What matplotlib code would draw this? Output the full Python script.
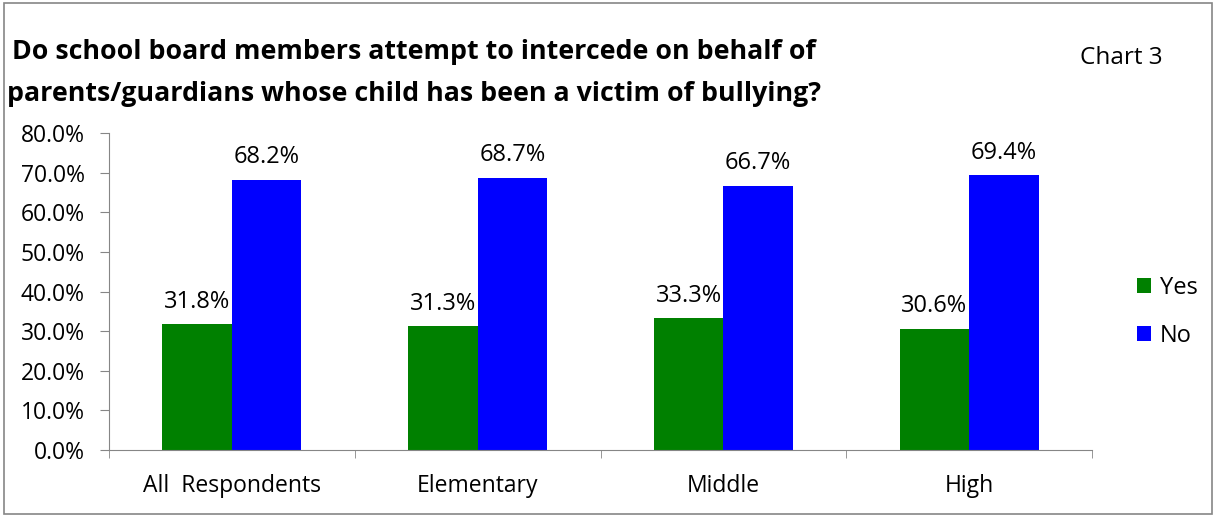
import matplotlib.pyplot as plt
import numpy as np
from matplotlib.patches import Rectangle

categories = ["All  Respondents", "Elementary", "Middle", "High"]
yes_vals = [31.8, 31.3, 33.3, 30.6]
no_vals = [68.2, 68.7, 66.7, 69.4]

plt.rcParams['font.family'] = ['Open Sans', 'DejaVu Sans']

fig = plt.figure(figsize=(12.17, 5.17), dpi=100)
ax = fig.add_axes([0.0896, 0.1296, 0.8077, 0.6131])

# outer border of the chart
fig.patches.append(Rectangle((0.003, 0.006), 0.993, 0.988, transform=fig.transFigure,
                             fill=False, edgecolor="#868686", linewidth=1.2))

x = np.arange(len(categories))
w = 0.283
b1 = ax.bar(x - w / 2, yes_vals, w, color="#008000", label="Yes")
b2 = ax.bar(x + w / 2, no_vals, w, color="#0000FF", label="No")

for bars, vals in ((b1, yes_vals), (b2, no_vals)):
    for r, v in zip(bars, vals):
        ax.text(r.get_x() + r.get_width() / 2, v + 2.6, f"{v:.1f}%",
                ha="center", va="bottom", fontsize=17)

ax.set_ylim(0, 80)
ax.set_xlim(-0.5, len(categories) - 0.5)
ax.set_yticks(np.arange(0, 81, 10))
ax.set_yticklabels([f"{t:.1f}%" for t in np.arange(0, 81, 10)], fontsize=16.5)
ax.set_xticks(x)
ax.set_xticklabels(categories, fontsize=16.5)
ax.set_xticks(np.arange(-0.5, len(categories)), minor=True)
ax.tick_params(axis="x", which="major", length=0, pad=17)
ax.tick_params(axis="x", which="minor", length=6, color="#868686")
ax.tick_params(axis="y", length=6.5, color="#868686", pad=11)

for s in ("top", "right"):
    ax.spines[s].set_visible(False)
for s in ("left", "bottom"):
    ax.spines[s].set_color("#868686")

fig.text(0.010, 0.900, "Do school board members attempt to intercede on behalf of",
         fontsize=19.25, fontweight="bold", va="center", ha="left")
fig.text(0.006, 0.818, "parents/guardians whose child has been a victim of bullying?",
         fontsize=19.25, fontweight="bold", va="center", ha="left")
fig.text(0.921, 0.887, "Chart 3", fontsize=17.5, va="center", ha="center")

fig.legend(loc="center left", bbox_to_anchor=(0.917, 0.397), frameon=False,
           fontsize=17, handlelength=0.6, handleheight=0.6, labelspacing=1.0,
           handletextpad=0.35)

fig.savefig("out.png", dpi=100)
